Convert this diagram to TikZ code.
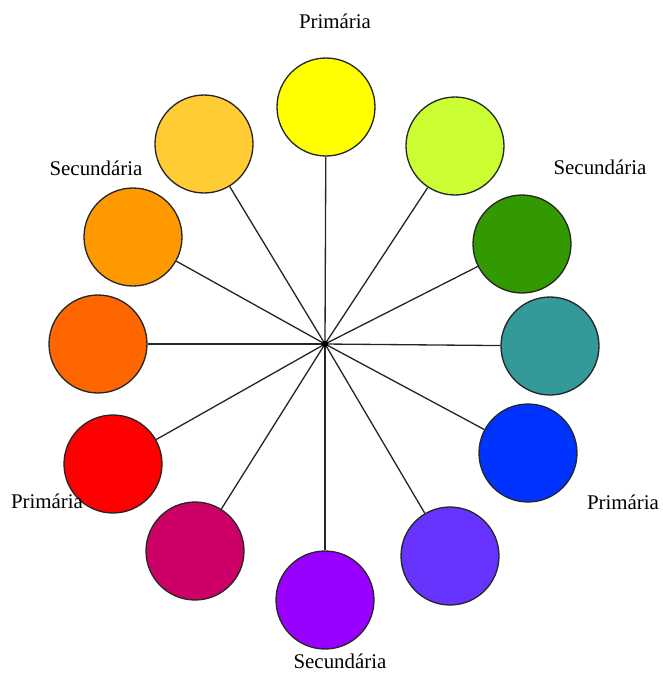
\documentclass[tikz,border=0pt]{standalone}
\usepackage{fontspec}
\setmainfont{Liberation Serif}
\usepackage{tikz}
\usetikzlibrary{positioning,calc}
\usepackage{xcolor}
\definecolor{cYellow}{HTML}{FFFF00}
\definecolor{cYellowGreen}{HTML}{CCFF33}
\definecolor{cGreen}{HTML}{339900}
\definecolor{cTeal}{HTML}{339999}
\definecolor{cBlue}{HTML}{0033FF}
\definecolor{cBlueViolet}{HTML}{6633FF}
\definecolor{cViolet}{HTML}{9900FF}
\definecolor{cMagenta}{HTML}{CC0066}
\definecolor{cRed}{HTML}{FF0000}
\definecolor{cRedOrange}{HTML}{FF6600}
\definecolor{cOrange}{HTML}{FF9900}
\definecolor{cYellowOrange}{HTML}{FFCC33}

\begin{document}
\begin{tikzpicture}[x=0.02cm,y=-0.02cm,
  swatch/.style={circle,draw=black!85,line width=0.75pt,minimum size=1.96cm,inner sep=0pt,fill=#1},
  spoke/.style={line width=0.75pt,black!85},
  tag/.style={font=\fontsize{11.9}{14}\selectfont,inner sep=1pt}]
\useasboundingbox (0,0) rectangle (663,674);
\coordinate (hub) at (325,344);
% the twelve colours
\node[swatch=cYellow] (yellow) at (326,107) {};
\node[swatch=cYellowGreen] (ygreen) at (455,146) {};
\node[swatch=cGreen] (green) at (522,244) {};
\node[swatch=cTeal] (teal) at (550,346) {};
\node[swatch=cBlue] (blue) at (528,453) {};
\node[swatch=cBlueViolet] (bviolet) at (450,556) {};
\node[swatch=cViolet] (violet) at (325,600) {};
\node[swatch=cMagenta] (magenta) at (195,551) {};
\node[swatch=cRed] (red) at (113,464) {};
\node[swatch=cRedOrange] (rorange) at (98,344) {};
\node[swatch=cOrange] (orange) at (133,237) {};
\node[swatch=cYellowOrange] (yorange) at (204,144) {};
\foreach \c in {yellow,ygreen,green,teal,blue,bviolet,violet,magenta,red,rorange,orange,yorange}
  \draw[spoke] (hub) -- (\c);
\fill (hub) circle (3.2);
% labels
\node[tag] (pTop) at (335,21) {Primária};
\node[tag] (sLeft) at (96,168) {Secundária};
\node[tag] (sRight) at (600,167) {Secundária};
\node[tag] (pLeft) at (47,501) {Primária};
\node[tag] (pRight) at (623,502) {Primária};
\node[tag] (sBottom) at (340,661) {Secundária};
\end{tikzpicture}
\end{document}
